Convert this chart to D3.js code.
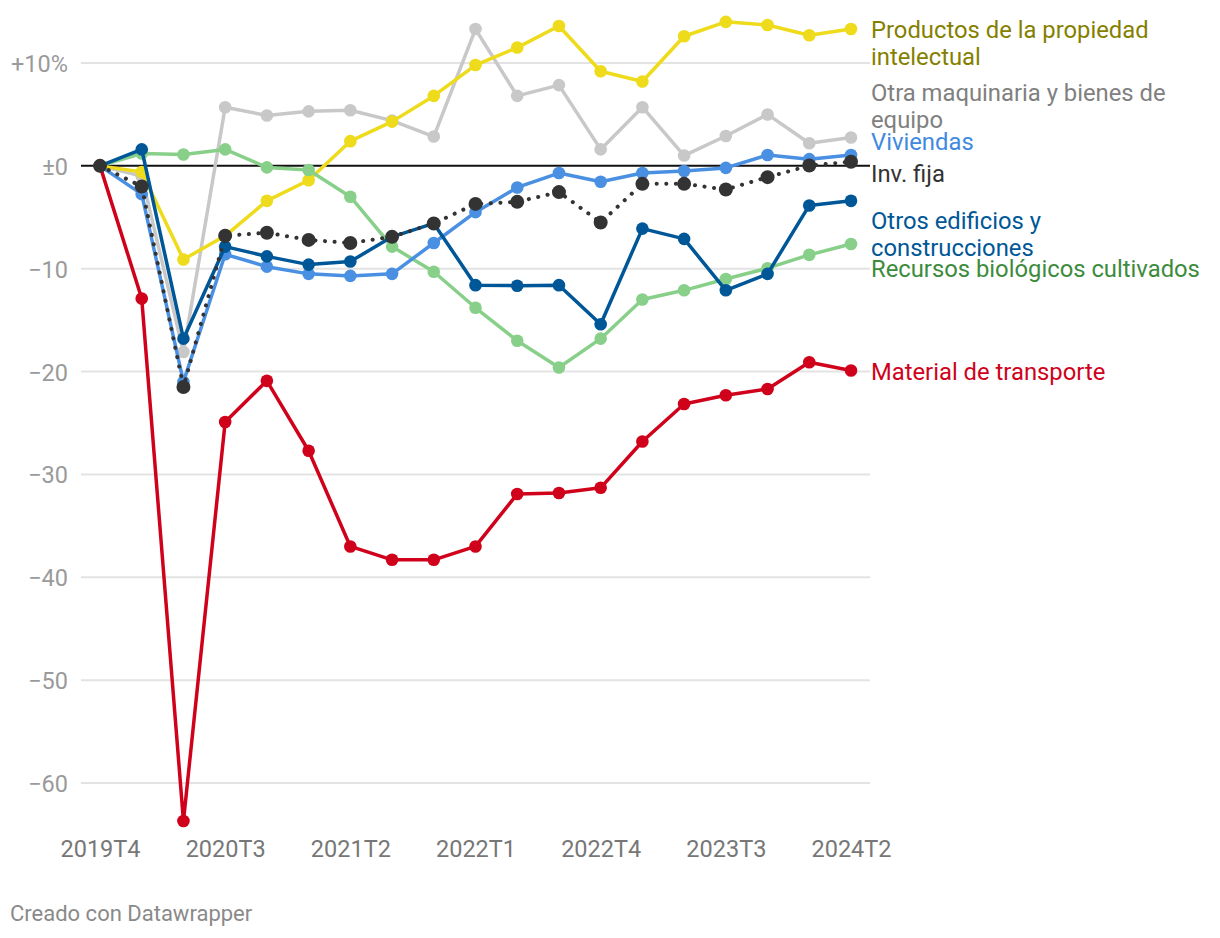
<!DOCTYPE html>
<html>
<head>
<meta charset="utf-8">
<script src="https://cdn.jsdelivr.net/npm/d3@7"></script>
<style>
  html, body { margin: 0; padding: 0; background: #fff; }
  svg { display: block; font-family: Roboto, "Noto Sans", sans-serif; }
</style>
</head>
<body>
<svg id="chart" width="1220" height="938"></svg>
<script>
// ---------- DATA ----------
const quarters = ["2019T4","2020T1","2020T2","2020T3","2020T4","2021T1","2021T2","2021T3","2021T4",
                  "2022T1","2022T2","2022T3","2022T4","2023T1","2023T2","2023T3","2023T4","2024T1","2024T2"];
const xTickLabels = ["2019T4","2020T3","2021T2","2022T1","2022T4","2023T3","2024T2"];
const yTickValues = [10, 0, -10, -20, -30, -40, -50, -60];

const propiedadIntelectual = [0, -0.6, -9.1, -6.8, -3.4, -1.4, 2.4, 4.3, 6.8, 9.8, 11.5, 13.6, 9.2, 8.2, 12.6, 14.0, 13.7, 12.7, 13.3];
const otraMaquinaria      = [0, -1.0, -18.1, 5.7, 4.9, 5.3, 5.4, 4.4, 2.85, 13.3, 6.8, 7.85, 1.6, 5.7, 1.0, 2.9, 5.0, 2.2, 2.75];
const recursosBiologicos  = [0, 1.2, 1.1, 1.6, -0.15, -0.4, -3.0, -7.85, -10.3, -13.8, -17.0, -19.6, -16.8, -13.0, -12.1, -11.0, -9.95, -8.65, -7.6];
const materialTransporte  = [0, -12.9, -63.7, -24.9, -20.9, -27.7, -37.0, -38.3, -38.3, -37.0, -31.9, -31.8, -31.3, -26.8, -23.15, -22.3, -21.7, -19.1, -19.9];
const viviendas           = [0, -2.75, -21.0, -8.6, -9.8, -10.5, -10.7, -10.5, -7.5, -4.5, -2.1, -0.7, -1.55, -0.7, -0.5, -0.2, 1.05, 0.65, 1.05];
const otrosEdificios      = [0, 1.6, -16.8, -7.85, -8.8, -9.6, -9.3, -6.9, -5.6, -11.6, -11.65, -11.6, -15.4, -6.1, -7.1, -12.1, -10.5, -3.85, -3.4];
const invFija             = [0, -2.0, -21.5, -6.8, -6.5, -7.2, -7.5, -6.9, -5.6, -3.7, -3.5, -2.55, -5.5, -1.75, -1.75, -2.3, -1.1, 0.03, 0.4];

const seriesNames = ["Otra maquinaria y bienes de equipo", "Productos de la propiedad intelectual",
  "Recursos biológicos cultivados", "Material de transporte", "Viviendas",
  "Otros edificios y construcciones", "Inv. fija"];
const seriesValues = [otraMaquinaria, propiedadIntelectual, recursosBiologicos, materialTransporte,
  viviendas, otrosEdificios, invFija];

// ---------- STYLE / LAYOUT (separate from data) ----------
const styles = {
  "Otra maquinaria y bienes de equipo": {line: "#c8c8c8", text: "#808080", lines: ["Otra maquinaria y bienes de", "equipo"], dy: -37},
  "Productos de la propiedad intelectual": {line: "#eedb1c", text: "#857f00", lines: ["Productos de la propiedad", "intelectual"], dy: 9},
  "Recursos biológicos cultivados": {line: "#88d08a", text: "#3d8b3d", lines: ["Recursos biológicos cultivados"], dy: 33},
  "Material de transporte": {line: "#d0021b", text: "#d0021b", lines: ["Material de transporte"], dy: 9},
  "Viviendas": {line: "#4a90e2", text: "#3f8ae0", lines: ["Viviendas"], dy: -5},
  "Otros edificios y construcciones": {line: "#005797", text: "#005797", lines: ["Otros edificios y", "construcciones"], dy: 28},
  "Inv. fija": {line: "#333333", text: "#333333", lines: ["Inv. fija"], dy: 20, dotted: true}
};

const svg = d3.select("#chart");
const x = d3.scalePoint().domain(quarters).range([100, 851]);
const y = d3.scaleLinear().domain([-60, 10]).range([783, 63]);

const gridX0 = 81, gridX1 = 870;

// grid lines
svg.append("g").selectAll("line").data(yTickValues.filter(v => v !== 0)).join("line")
  .attr("x1", gridX0).attr("x2", gridX1)
  .attr("y1", d => y(d)).attr("y2", d => y(d))
  .attr("stroke", "#e3e3e3").attr("stroke-width", 2);

// y axis labels
const fmtY = v => v === 10 ? "+10%" : v === 0 ? "±0" : "\u2212" + Math.abs(v);
const yAxis = d3.axisLeft(y).tickValues(yTickValues).tickFormat(fmtY).tickSize(0).tickPadding(0);
const yg = svg.append("g").attr("transform", "translate(68,0)").call(yAxis);
yg.select(".domain").remove();
yg.selectAll("text").attr("fill", "#9a9a9a").attr("font-size", 23.5).attr("font-family", "Roboto").attr("dy", "0.36em");

// x axis labels
const xAxis = d3.axisBottom(x).tickValues(xTickLabels).tickSize(0).tickPadding(0);
const xg = svg.append("g").attr("transform", "translate(0,857)").call(xAxis);
xg.select(".domain").remove();
xg.selectAll("text").attr("fill", "#777").attr("font-size", 23.5).attr("font-family", "Roboto").attr("dy", 0);

// zero line
svg.append("line").attr("x1", gridX0).attr("x2", gridX1).attr("y1", y(0)).attr("y2", y(0))
  .attr("stroke", "#111").attr("stroke-width", 2);

// lines
const lineGen = d3.line().x((d, i) => x(quarters[i])).y(d => y(d));
seriesNames.forEach((name, si) => {
  const st = styles[name];
  const vals = seriesValues[si];
  const g = svg.append("g");
  g.append("path").datum(vals).attr("d", lineGen)
    .attr("fill", "none").attr("stroke", st.line)
    .attr("stroke-width", st.dotted ? 4 : 3.5)
    .attr("stroke-linejoin", "round")
    .attr("stroke-linecap", "round")
    .attr("stroke-dasharray", st.dotted ? "0.1,9.5" : null);
  g.selectAll("circle").data(vals).join("circle")
    .attr("cx", (d, i) => x(quarters[i])).attr("cy", d => y(d))
    .attr("r", st.dotted ? 7 : 6.3).attr("fill", st.line);
});

// labels
seriesNames.forEach((name, si) => {
  const st = styles[name];
  const vals = seriesValues[si];
  const base = y(vals[vals.length - 1]) + st.dy;
  const t = svg.append("text").attr("x", 871).attr("y", base)
    .attr("fill", st.text).attr("font-size", 23.8).attr("font-family", "Roboto");
  st.lines.forEach((ln, k) => {
    t.append("tspan").attr("x", 871).attr("y", base + k * 27).text(ln);
  });
});

// footer
svg.append("text").attr("x", 10).attr("y", 921).attr("fill", "#8a8a8a")
  .attr("font-size", 22).attr("font-family", "Roboto").text("Creado con Datawrapper");
</script>
</body>
</html>
